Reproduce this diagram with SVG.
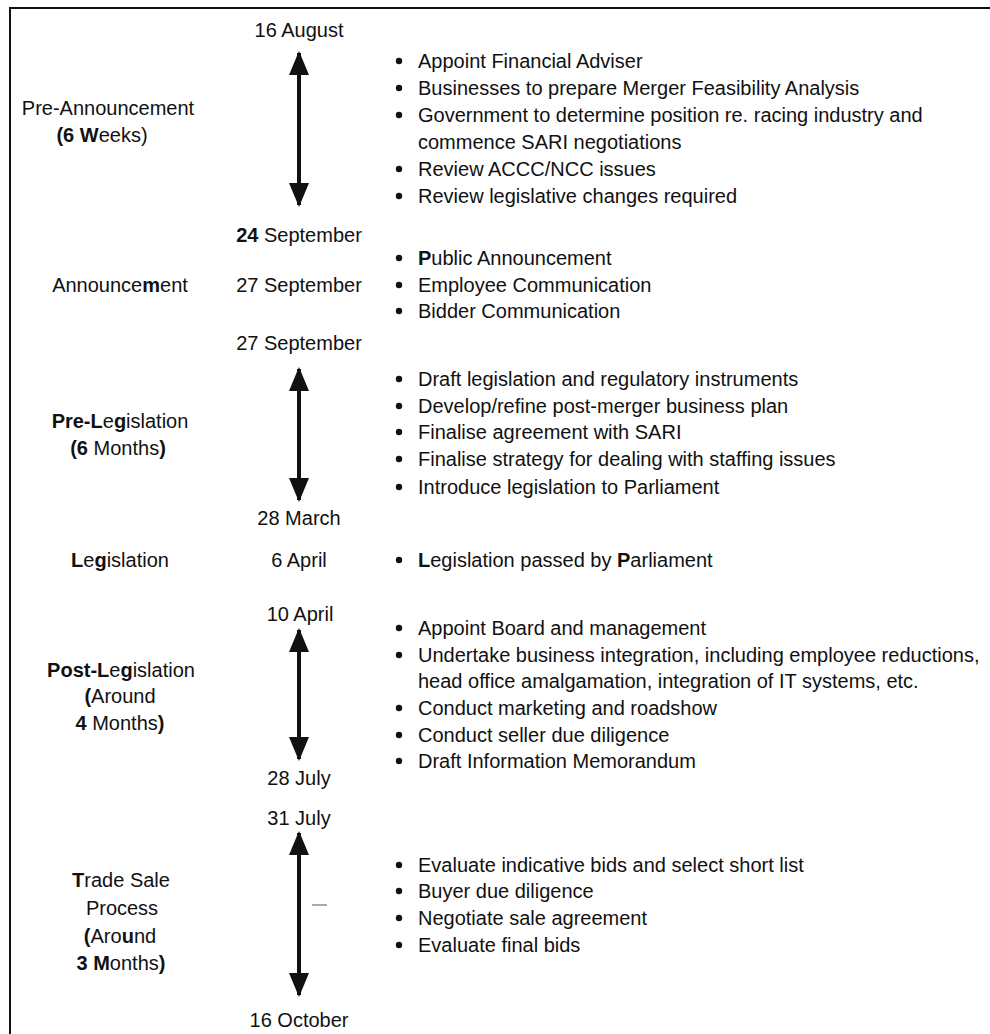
<svg xmlns="http://www.w3.org/2000/svg" width="990" height="1034" viewBox="0 0 990 1034">
<style>
text{font-family:"Liberation Sans",Arial,Helvetica,sans-serif;font-size:20px;fill:#111}
.c{text-anchor:middle}
.b{font-weight:bold}
.arr{stroke:#111;stroke-width:4;fill:none}
.dot{fill:#111}
</style>
<defs>
<marker id="ah" viewBox="0 0 12 10" refX="11" refY="5" markerWidth="6" markerHeight="5.4" markerUnits="strokeWidth" orient="auto-start-reverse">
<path d="M0,0 L12,5 L0,10 Z" fill="#111"/>
</marker>
</defs>
<rect width="990" height="1034" fill="#fff"/>
<g id="frame" stroke="#111" stroke-width="2" fill="none">
<path d="M10,1034 V8 H990"/>
</g>

<g id="connectors">
<line class="arr" x1="299" y1="53" x2="299" y2="205" marker-start="url(#ah)" marker-end="url(#ah)"/>
<line class="arr" x1="299" y1="369" x2="299" y2="500" marker-start="url(#ah)" marker-end="url(#ah)"/>
<line class="arr" x1="299" y1="630" x2="299" y2="759" marker-start="url(#ah)" marker-end="url(#ah)"/>
<line class="arr" x1="299" y1="833" x2="299" y2="995" marker-start="url(#ah)" marker-end="url(#ah)"/>
<line x1="312" y1="905" x2="327" y2="905" stroke="#555" stroke-width="1"/>
</g>

<g id="phase-pre-announcement">
<text class="c" x="108" y="115">Pre-Announcement</text>
<text class="c" x="102" y="142"><tspan class="b">(6 W</tspan>eeks)</text>
<text class="c" x="299" y="37">16 August</text>
<text class="c" x="299" y="242"><tspan class="b">24</tspan> September</text>
<circle class="dot" cx="399" cy="61" r="3.2"/><text x="418" y="68">Appoint Financial Adviser</text>
<circle class="dot" cx="399" cy="88" r="3.2"/><text x="418" y="95">Businesses to prepare Merger Feasibility Analysis</text>
<circle class="dot" cx="399" cy="115" r="3.2"/><text x="418" y="122">Government to determine position re. racing industry and</text>
<text x="418" y="149">commence SARI negotiations</text>
<circle class="dot" cx="399" cy="169" r="3.2"/><text x="418" y="176">Review ACCC/NCC issues</text>
<circle class="dot" cx="399" cy="196" r="3.2"/><text x="418" y="203">Review legislative changes required</text>
</g>

<g id="phase-announcement">
<text class="c" x="120" y="292">Announce<tspan class="b">m</tspan>ent</text>
<text class="c" x="299" y="292">27 September</text>
<circle class="dot" cx="399" cy="258" r="3.2"/><text x="418" y="265"><tspan class="b">P</tspan>ublic Announcement</text>
<circle class="dot" cx="399" cy="285" r="3.2"/><text x="418" y="292">Employee Communication</text>
<circle class="dot" cx="399" cy="311" r="3.2"/><text x="418" y="318">Bidder Communication</text>
</g>

<g id="phase-pre-legislation">
<text class="c" x="120" y="428"><tspan class="b">Pre-L</tspan>e<tspan class="b">g</tspan>islation</text>
<text class="c" x="118" y="455"><tspan class="b">(6</tspan> Months<tspan class="b">)</tspan></text>
<text class="c" x="299" y="350">27 September</text>
<text class="c" x="299" y="525">28 March</text>
<circle class="dot" cx="399" cy="379" r="3.2"/><text x="418" y="386">Draft legislation and regulatory instruments</text>
<circle class="dot" cx="399" cy="406" r="3.2"/><text x="418" y="413">Develop/refine post-merger business plan</text>
<circle class="dot" cx="399" cy="432" r="3.2"/><text x="418" y="439">Finalise agreement with SARI</text>
<circle class="dot" cx="399" cy="459" r="3.2"/><text x="418" y="466">Finalise strategy for dealing with staffing issues</text>
<circle class="dot" cx="399" cy="487" r="3.2"/><text x="418" y="494">Introduce legislation to Parliament</text>
</g>

<g id="phase-legislation">
<text class="c" x="120" y="567"><tspan class="b">L</tspan>e<tspan class="b">g</tspan>islation</text>
<text class="c" x="299" y="567">6 April</text>
<circle class="dot" cx="399" cy="560" r="3.2"/><text x="418" y="567"><tspan class="b">L</tspan>egislation passed by <tspan class="b">P</tspan>arliament</text>
</g>

<g id="phase-post-legislation">
<text class="c" x="121" y="677"><tspan class="b">Post-L</tspan>e<tspan class="b">g</tspan>islation</text>
<text class="c" x="120" y="703"><tspan class="b">(</tspan>Around</text>
<text class="c" x="120" y="730"><tspan class="b">4</tspan> Months<tspan class="b">)</tspan></text>
<text class="c" x="300" y="621">10 April</text>
<text class="c" x="299" y="785">28 July</text>
<circle class="dot" cx="399" cy="628" r="3.2"/><text x="418" y="635">Appoint Board and management</text>
<circle class="dot" cx="399" cy="655" r="3.2"/><text x="418" y="662">Undertake business integration, including employee reductions,</text>
<text x="418" y="688">head office amalgamation, integration of IT systems, etc.</text>
<circle class="dot" cx="399" cy="708" r="3.2"/><text x="418" y="715">Conduct marketing and roadshow</text>
<circle class="dot" cx="399" cy="735" r="3.2"/><text x="418" y="742">Conduct seller due diligence</text>
<circle class="dot" cx="399" cy="761" r="3.2"/><text x="418" y="768">Draft Information Memorandum</text>
</g>

<g id="phase-trade-sale">
<text class="c" x="121" y="887"><tspan class="b">T</tspan>rade Sale</text>
<text class="c" x="122" y="915">Process</text>
<text class="c" x="120" y="943"><tspan class="b">(</tspan>Aro<tspan class="b">u</tspan>nd</text>
<text class="c" x="121" y="970"><tspan class="b">3 M</tspan>onths<tspan class="b">)</tspan></text>
<text class="c" x="299" y="825">31 July</text>
<text class="c" x="299" y="1027">16 October</text>
<circle class="dot" cx="399" cy="865" r="3.2"/><text x="418" y="872">Evaluate indicative bids and select short list</text>
<circle class="dot" cx="399" cy="891" r="3.2"/><text x="418" y="898">Buyer due diligence</text>
<circle class="dot" cx="399" cy="918" r="3.2"/><text x="418" y="925">Negotiate sale agreement</text>
<circle class="dot" cx="399" cy="945" r="3.2"/><text x="418" y="952">Evaluate final bids</text>
</g>
</svg>
